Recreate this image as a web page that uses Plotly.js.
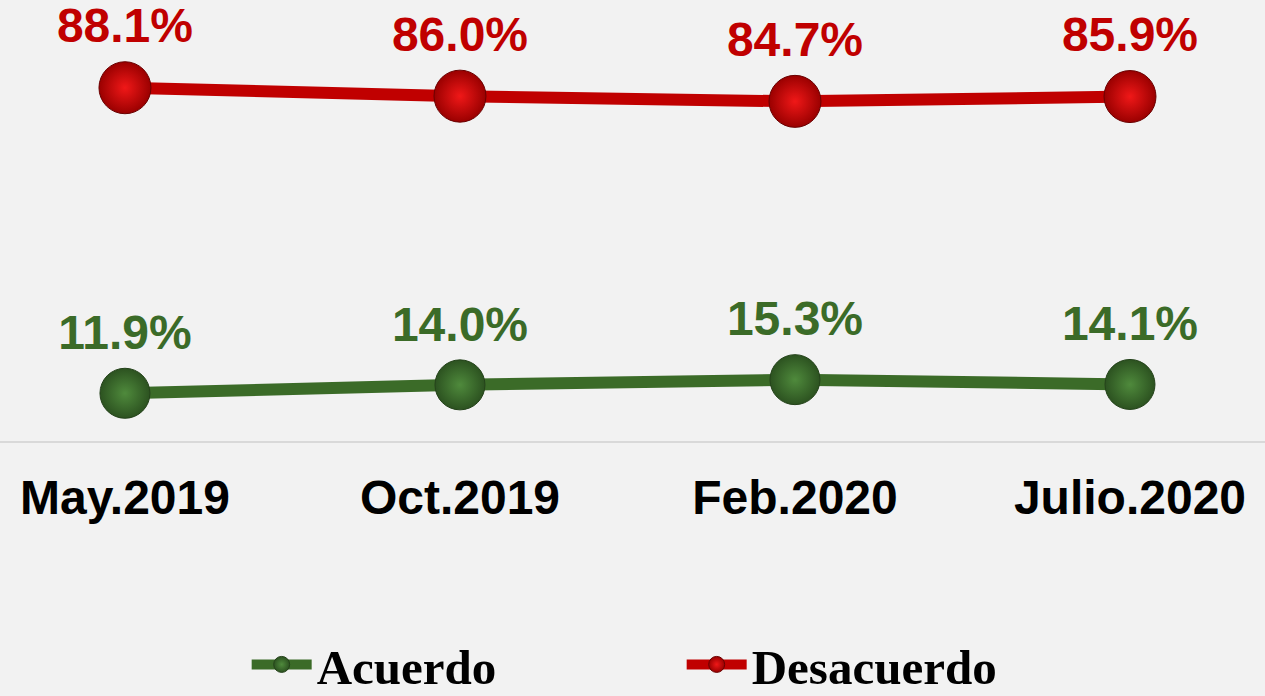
<!DOCTYPE html>
<html>
<head>
<meta charset="utf-8">
<script src="https://cdn.plot.ly/plotly-3.0.1.min.js"></script>
<style>html,body{margin:0;padding:0;background:#f2f2f2;}#chart{width:1265px;height:696px;}</style>
</head>
<body>
<div id="chart"></div>
<script>
var periods = ["May.2019", "Oct.2019", "Feb.2020", "Julio.2020"];
var acuerdo = [11.9, 14.0, 15.3, 14.1];
var desacuerdo = [88.1, 86.0, 84.7, 85.9];
var seriesNames = ["Acuerdo", "Desacuerdo"];

function labels(arr) { return arr.map(function (v) { return v.toFixed(1) + "%"; }); }

var traces = [
  {
    x: periods, y: acuerdo, name: seriesNames[0], type: "scatter", mode: "lines+markers+text",
    line: { color: "#3b6b28", width: 12 },
    marker: { size: 50, color: "#2c5220", gradient: { type: "radial", color: "#4f8a3c" }, line: { color: "#24421a", width: 1 } },
    text: labels(acuerdo), textposition: "top center",
    textfont: { family: "Liberation Sans, Arial, sans-serif", size: 48, color: "#3b6b28", weight: "bold" },
    cliponaxis: false, hoverinfo: "skip"
  },
  {
    x: periods, y: desacuerdo, name: seriesNames[1], type: "scatter", mode: "lines+markers+text",
    line: { color: "#c00000", width: 12 },
    marker: { size: 52, color: "#9a0000", gradient: { type: "radial", color: "#f01818" }, line: { color: "#6a0000", width: 1 } },
    text: labels(desacuerdo), textposition: "top center",
    textfont: { family: "Liberation Sans, Arial, sans-serif", size: 48, color: "#c00000", weight: "bold" },
    cliponaxis: false, hoverinfo: "skip"
  }
];

var layout = {
  width: 1265, height: 696,
  paper_bgcolor: "#f2f2f2", plot_bgcolor: "#f2f2f2",
  margin: { l: 0, r: 0, t: 36, b: 255, autoexpand: false },
  showlegend: true,
  legend: {
    orientation: "h", x: 0.195, xanchor: "left", y: -0.552, yanchor: "middle",
    itemwidth: 60,
    entrywidth: 360, entrywidthmode: "pixels",
    font: { family: "Liberation Serif, Times New Roman, serif", size: 49, color: "#000000", weight: "bold" },
    bgcolor: "rgba(0,0,0,0)"
  },
  xaxis: {
    type: "category", range: [-0.373, 3.403], showgrid: false, zeroline: false,
    showline: true, linecolor: "#d9d9d9", linewidth: 2,
    ticks: "", ticklabelstandoff: 13,
    tickfont: { family: "Liberation Sans, Arial, sans-serif", size: 48, color: "#000000", weight: "bold" },
    fixedrange: true
  },
  yaxis: {
    range: [0, 101], showgrid: false, zeroline: false, showline: false, showticklabels: false, ticks: "",
    fixedrange: true
  }
};

Plotly.newPlot("chart", traces, layout, { displayModeBar: false, staticPlot: true });
</script>
</body>
</html>
